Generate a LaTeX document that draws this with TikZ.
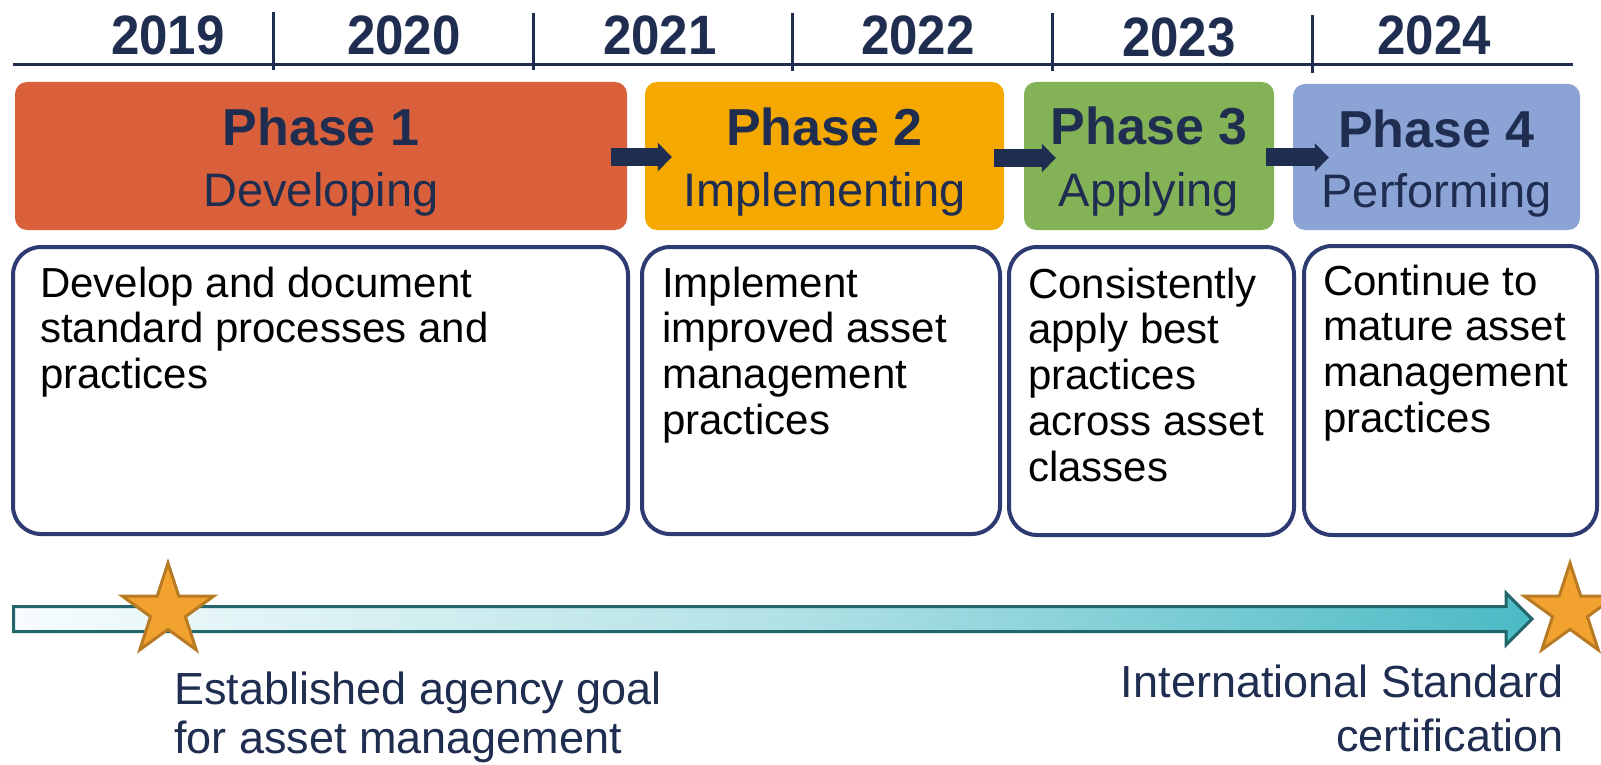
\documentclass[tikz,border=0pt]{standalone}
\usepackage{fontspec}
\setmainfont{Liberation Sans}
\newfontfamily\yearfont[FakeStretch=0.92]{Liberation Sans}
\usetikzlibrary{shapes.geometric,arrows.meta,calc}

\definecolor{navy}{HTML}{1F2D50}
\definecolor{boxline}{HTML}{2E3A72}
\definecolor{phaseA}{HTML}{D9603B}
\definecolor{phaseB}{HTML}{F4A800}
\definecolor{phaseC}{HTML}{84B357}
\definecolor{phaseD}{HTML}{8BA4D5}
\definecolor{barline}{HTML}{23666A}
\definecolor{barleft}{HTML}{F7FCFD}
\definecolor{barmid}{HTML}{B3E2E6}
\definecolor{barright}{HTML}{4BBAC5}
\definecolor{starfill}{HTML}{F2A22F}
\definecolor{starline}{HTML}{B87A22}

% stacked lines, baseline on the first line
\newcommand{\linesof}[2][l]{\begin{tabular}[t]{@{}#1@{}}#2\end{tabular}}

\tikzset{
  year/.style={font=\yearfont\bfseries\fontsize{55.5}{60}\selectfont, text=navy, anchor=base, inner sep=0},
  tick/.style={draw=navy, line width=3pt},
  phasebox/.style={rounded corners=12pt, inner sep=0, draw=none},
  phasetitle/.style={font=\bfseries\fontsize{52}{56}\selectfont, text=navy, anchor=base, inner sep=0},
  phasesub/.style={font=\fontsize{47}{50}\selectfont, text=navy, anchor=base, inner sep=0},
  descbox/.style={draw=boxline, line width=4pt, rounded corners=28pt, fill=white, inner sep=0},
  desctext/.style={font=\fontsize{42}{45.8}\selectfont, anchor=base west, inner sep=0, text=black},
  stepflow/.style={draw=navy, line width=18pt, -{Triangle[width=28pt, length=14pt]}},
  goal/.style={text=navy, inner sep=0},
  milestone/.style={star, star points=5, star point ratio=2.618, minimum size=96pt,
    inner sep=0, fill=starfill, draw=starline, line width=3pt},
}

\begin{document}
\begin{tikzpicture}[x=1pt, y=-1pt]
\useasboundingbox (0,0) rectangle (1601,765);
\clip (0,0) rectangle (1601,765);

% year scale
\draw[tick] (13,65) -- (1573,65);
\draw[tick] (273,12) -- (273,70);
\draw[tick] (533,13) -- (533,70);
\draw[tick] (792,13) -- (792,71);
\draw[tick] (1052,13) -- (1052,71);
\draw[tick] (1312,15) -- (1312,73);
\node[year] (y2019) at (168,55) {2019};
\node[year] (y2020) at (404,55) {2020};
\node[year] (y2021) at (660,55) {2021};
\node[year] (y2022) at (918,55) {2022};
\node[year] (y2023) at (1179,57) {2023};
\node[year] (y2024) at (1434,55) {2024};

% phase headers
\node[phasebox, fill=phaseA, minimum width=612pt, minimum height=148pt] (p1) at (321,156) {};
\node[phasebox, fill=phaseB, minimum width=359pt, minimum height=148pt] (p2) at (824.5,156) {};
\node[phasebox, fill=phaseC, minimum width=250pt, minimum height=148pt] (p3) at (1149,156) {};
\node[phasebox, fill=phaseD, minimum width=287pt, minimum height=146pt] (p4) at (1436.5,157) {};

\node[phasetitle] (p1t) at ($(p1.center)+(0,-10)$) {Phase 1};
\node[phasesub]   (p1s) at ($(p1.center)+(0,50)$) {Developing};
\node[phasetitle] (p2t) at ($(p2.center)+(0,-10)$) {Phase 2};
\node[phasesub]   (p2s) at ($(p2.center)+(0,50)$) {Implementing};
\node[phasetitle] (p3t) at ($(p3.center)+(0,-11)$) {Phase 3};
\node[phasesub]   (p3s) at ($(p3.center)+(0,50)$) {Applying};
\node[phasetitle] (p4t) at ($(p4.center)+(0,-10)$) {Phase 4};
\node[phasesub]   (p4s) at ($(p4.center)+(0,50)$) {Performing};

% flow between phases
\draw[stepflow] ($(p1.east)+(-16,1)$) -- ($(p2.west)+(27,1)$);
\draw[stepflow] ($(p2.east)+(-10,2)$) -- ($(p3.west)+(32,2)$);
\draw[stepflow] ($(p3.east)+(-8,1.5)$) -- ($(p4.west)+(36,0.5)$);

% phase descriptions
\node[descbox, minimum width=615pt, minimum height=287pt] (d1) at (320.5,390.5) {};
\node[descbox, minimum width=358pt, minimum height=287pt] (d2) at (821,390.5) {};
\node[descbox, minimum width=285pt, minimum height=288pt] (d3) at (1151.5,391) {};
\node[descbox, minimum width=293pt, minimum height=289pt] (d4) at (1450.5,390.5) {};

\node[desctext] (d1t) at (40,297) {\linesof{Develop and document\\standard processes and\\practices}};
\node[desctext] (d2t) at (662,297) {\linesof{Implement\\improved asset\\management\\practices}};
\node[desctext] (d3t) at (1028,298) {\linesof{Consistently\\apply best\\practices\\across asset\\classes}};
\node[desctext] (d4t) at (1323,295) {\linesof{Continue to\\mature asset\\management\\practices}};

% progress bar
\path[draw=barline, line width=3pt, line join=miter,
      left color=barleft, right color=barright, middle color=barmid]
  (13.5,606.5) -- (1506,606.5) -- (1506,593) -- (1532,619) -- (1506,645)
  -- (1506,631.5) -- (13.5,631.5) -- cycle;

% milestones
\node[milestone] (s1) at (168,611) {};
\node[milestone] (s2) at (1570,611) {};

\node[goal, anchor=base west, font=\fontsize{45}{49}\selectfont] (g1) at (174,704)
  {\linesof{Established agency goal\\for asset management}};
\node[goal, anchor=base east, font=\fontsize{45}{54}\selectfont] (g2) at (1564,697)
  {\linesof[r]{International Standard\\certification}};
\end{tikzpicture}
\end{document}
